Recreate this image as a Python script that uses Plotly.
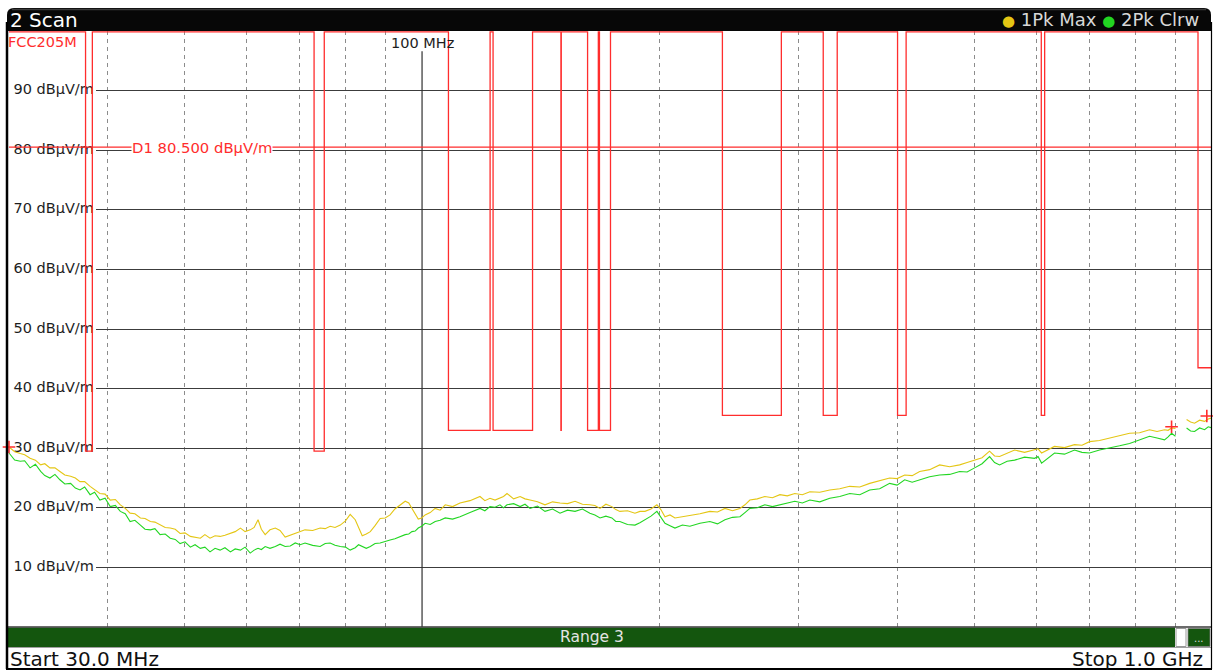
import math
import plotly.graph_objects as go

# ---------------- data ----------------
freq_mhz = [30.0, 30.5, 31.0, 31.4, 31.9, 32.4, 32.9, 33.3, 33.8, 34.3,
            34.8, 35.3, 35.9, 36.4, 36.9, 37.4, 38.0, 38.5, 39.1, 39.7,
            40.3, 40.9, 41.5, 42.1, 42.7, 43.3, 44.0, 44.6, 45.3, 45.9,
            46.6, 47.3, 48.0, 48.7, 49.4, 50.1, 50.9, 51.6, 52.4, 53.1,
            53.9, 54.7, 55.5, 56.3, 57.2, 58.0, 58.9, 59.7, 60.6, 61.3,
            62.0, 62.6, 63.3, 64.2, 65.2, 66.1, 67.1, 68.1, 69.1, 70.1,
            71.1, 72.7, 74.3, 75.4, 76.5, 77.6, 78.8, 80.0, 81.1, 82.3,
            83.1, 84.0, 85.0, 86.0, 87.2, 88.5, 89.8, 91.1, 92.4, 93.8,
            95.2, 96.2, 97.1, 98.0, 98.9, 99.9, 100.9, 102.4, 103.9, 105.4,
            107.0, 109.3, 111.7, 115.0, 118.4, 120.1, 121.9, 123.7, 125.5, 126.8,
            128.1, 130.6, 133.1, 135.0, 137.0, 140.0, 143.1, 146.3, 149.5, 152.8,
            156.2, 159.6, 163.1, 165.5, 168.0, 170.9, 173.9, 175.9, 178.0, 182.0,
            186.0, 188.7, 191.5, 194.9, 198.3, 200.6, 203.0, 206.0, 209.0, 213.6,
            218.3, 224.8, 231.4, 236.6, 241.8, 247.2, 252.6, 256.3, 260.0, 265.7,
            271.6, 277.7, 283.8, 290.0, 296.4, 303.0, 309.7, 318.8, 328.2, 337.9,
            347.9, 358.2, 368.7, 379.6, 390.8, 399.4, 408.3, 417.3, 426.5, 439.1,
            452.1, 465.5, 479.2, 489.8, 500.6, 511.6, 522.9, 530.6, 538.4, 550.4,
            562.5, 579.1, 596.2, 602.3, 608.5, 620.1, 631.9, 650.6, 669.8, 684.6,
            699.8, 720.5, 741.8, 763.8, 786.4, 809.7, 833.6, 852.0, 870.8, 880.0,
            888.8, 899.0, 910.0, 928.6, 939.5, 950.5, 964.5, 978.6, 989.0, 1000.0]

pk_max = [30.2, 29.4, 29.1, 28.9, 28.3, 28.0, 27.2, 27.4, 26.7, 26.7,
          26.1, 25.5, 25.3, 25.0, 24.4, 24.4, 23.6, 23.1, 22.4, 22.3,
          21.3, 21.4, 20.5, 19.9, 19.1, 19.0, 18.3, 18.2, 17.7, 17.6,
          17.1, 16.7, 16.6, 16.4, 15.7, 15.8, 15.2, 15.1, 14.9, 15.5,
          14.9, 15.3, 15.2, 15.4, 15.7, 16.0, 16.6, 16.0, 16.3, 16.7,
          18.0, 16.4, 15.5, 16.3, 16.6, 16.2, 15.1, 15.4, 15.7, 16.0,
          16.3, 16.2, 16.6, 16.5, 16.9, 16.7, 17.1, 17.8, 18.9, 18.0,
          16.6, 15.3, 15.6, 16.0, 17.0, 18.2, 18.3, 18.8, 19.8, 20.5,
          21.1, 20.8, 19.9, 19.0, 18.1, 18.3, 18.8, 19.2, 19.9, 19.6,
          20.5, 20.2, 20.8, 21.2, 21.9, 21.2, 21.6, 21.3, 21.6, 21.9,
          22.4, 21.5, 21.9, 21.5, 21.3, 21.0, 20.5, 21.0, 20.8, 20.7,
          21.1, 20.6, 20.5, 20.4, 19.9, 20.6, 20.2, 19.7, 19.4, 19.5,
          19.1, 19.4, 19.4, 19.8, 20.5, 19.7, 18.5, 18.8, 18.3, 18.5,
          18.8, 19.0, 19.4, 19.3, 19.9, 19.5, 19.9, 20.5, 21.3, 21.5,
          21.9, 21.7, 22.2, 22.0, 22.4, 22.2, 22.7, 22.6, 23.0, 23.2,
          23.6, 23.5, 24.1, 24.5, 25.0, 24.9, 25.5, 25.4, 26.1, 26.4,
          27.2, 26.9, 27.2, 27.6, 28.0, 28.4, 29.5, 28.7, 28.6, 29.1,
          29.7, 29.3, 29.7, 29.9, 29.2, 29.8, 30.3, 30.1, 30.6, 30.5,
          31.1, 31.3, 31.7, 32.0, 32.5, 32.6, 33.1, 32.8, 33.1, 33.0,
          33.4, 33.3, None, 34.8, 34.4, 34.2, 34.7, 34.5, 34.9, 35.1]

pk_clrw = [29.2, 28.0, 27.8, 27.9, 26.7, 27.3, 26.1, 25.4, 25.0, 25.6,
           24.7, 24.0, 24.1, 23.3, 23.0, 23.5, 22.2, 22.6, 21.3, 21.6,
           20.2, 20.4, 19.4, 19.0, 17.7, 17.9, 17.1, 16.4, 16.3, 16.5,
           15.5, 15.6, 14.9, 14.7, 14.0, 14.3, 13.4, 13.8, 13.2, 13.4,
           12.6, 13.2, 12.9, 13.3, 12.6, 13.1, 12.9, 13.4, 12.4, 12.9,
           13.2, 13.0, 13.5, 13.2, 13.5, 13.9, 13.5, 13.6, 14.1, 13.8,
           14.1, 13.7, 13.5, 14.0, 14.1, 13.7, 13.5, 13.4, 12.9, 13.3,
           13.8, 13.5, 13.2, 13.5, 14.0, 14.1, 14.4, 14.6, 14.8, 15.2,
           15.5, 15.6, 16.0, 16.1, 16.6, 16.9, 17.4, 17.2, 17.7, 17.9,
           18.3, 18.1, 18.5, 19.2, 19.9, 19.5, 20.2, 20.1, 20.5, 20.0,
           20.5, 20.7, 20.2, 20.6, 19.9, 20.3, 19.4, 19.8, 19.1, 19.6,
           19.4, 19.8, 19.1, 18.8, 18.3, 18.6, 18.3, 17.7, 17.7, 17.2,
           17.1, 17.5, 18.0, 18.6, 19.4, 18.3, 17.4, 17.0, 16.6, 17.1,
           16.9, 17.4, 17.7, 17.3, 18.0, 18.4, 18.5, 19.2, 19.9, 20.0,
           20.5, 20.2, 20.5, 20.9, 21.1, 20.8, 21.3, 21.0, 21.6, 21.9,
           22.4, 22.2, 23.0, 23.2, 24.1, 23.8, 24.7, 24.3, 24.7, 25.2,
           25.5, 25.6, 26.1, 26.0, 26.7, 27.4, 28.6, 27.6, 27.2, 27.8,
           28.0, 28.5, 28.3, 28.6, 27.5, 28.4, 29.2, 29.0, 29.7, 29.3,
           29.2, 29.7, 30.0, 30.4, 30.8, 31.4, 32.0, 31.7, 31.4, 31.9,
           32.5, 32.0, None, 33.4, 32.9, 32.8, 33.4, 33.1, 33.6, 33.4]

# FCC 15.205 restricted-band limit line (dBuV/m)
mask_freq = [30, 37.5, 37.5, 38.25, 38.25, 73, 73, 75.2, 75.2,
             108, 108, 121.94, 121.94, 123, 123, 138, 138,
             149.9, 149.9, 150.05, 150.05, 162.0125, 162.0125, 167.17, 167.17,
             167.72, 167.72, 173.2, 173.2, 240, 240, 285, 285,
             322, 322, 335.4, 335.4, 399.9, 399.9, 410, 410,
             608, 608, 614, 614, 960, 960, 1000]
mask_level = [99.85, 99.85, 29.5, 29.5, 99.85, 99.85, 29.5, 29.5, 99.85,
              99.85, 33.0, 33.0, 99.85, 99.85, 33.0, 33.0, 99.85,
              99.85, 33.0, 33.0, 99.85, 99.85, 33.0, 33.0, 99.85,
              99.85, 33.0, 33.0, 99.85, 99.85, 35.5, 35.5, 99.85,
              99.85, 35.5, 35.5, 99.85, 99.85, 35.5, 35.5, 99.85,
              99.85, 35.5, 35.5, 99.85, 99.85, 43.5, 43.5]

d1_level = 80.5
peak_freq = [30.0, 888.8, 985.0]
peak_level = [30.2, 33.6, 35.4]

ylabel_vals = [10, 20, 30, 40, 50, 60, 70, 80, 90]
ylabel_text = [f"{v} dBµV/m" for v in ylabel_vals]
xgrid_vals = [40, 50, 60, 70, 80, 90, 200, 300, 400, 500, 600, 700, 800, 900]
marker_freq = 100
f_start, f_stop = 30.0, 1000.0

# ---------------- layout helpers ----------------
W, H = 1213, 671
L, R, T, B = 9, 1, 31, 44
PW, PH = W - L - R, H - T - B
DEC = math.log10(f_stop / f_start)


def X(px):
    return (px - L) / PW


def Y(py):
    return (H - B - py) / PH


def F(px):
    """frequency at a horizontal pixel position (for label backings only)"""
    return f_start * 10 ** ((px - L) / PW * DEC)


FONT = "DejaVu Sans"
YELLOW = "rgb(228,198,20)"
GREEN = "rgb(34,214,34)"
RED = "rgb(255,45,45)"
DKGREEN = "rgb(20,86,14)"

fig = go.Figure()

# white backings for the in-plot level labels (cover the grid, beneath traces)
bx, by = [], []
for v in ylabel_vals:
    bx += [F(9), F(96), F(96), F(9), F(9), None]
    by += [v - 1.3, v - 1.3, v + 1.3, v + 1.3, v - 1.3, None]
fig.add_trace(go.Scatter(x=bx, y=by, mode="lines", fill="toself", fillcolor="white",
                         line=dict(width=0, color="white"), hoverinfo="skip"))

# y tick labels (beneath the traces)
fig.add_trace(go.Scatter(x=[F(13.5)] * len(ylabel_vals), y=ylabel_vals, text=ylabel_text,
                         mode="text", textposition="middle right",
                         textfont=dict(family=FONT, size=14.5, color="#1e1e1e"),
                         hoverinfo="skip"))

# 100 MHz marker line
fig.add_trace(go.Scatter(x=[marker_freq, marker_freq], y=[0, 96.6], mode="lines",
                         line=dict(color="#303030", width=1.2), hoverinfo="skip"))

# limit line and display line
fig.add_trace(go.Scatter(x=mask_freq, y=mask_level, mode="lines",
                         line=dict(color=RED, width=1.3), name="FCC205M"))
fig.add_trace(go.Scatter(x=[f_start, f_stop], y=[d1_level, d1_level], mode="lines",
                         line=dict(color=RED, width=1.3), name="D1"))

# traces
fig.add_trace(go.Scatter(x=freq_mhz, y=pk_max, mode="lines",
                         line=dict(color=YELLOW, width=1.1), name="1Pk Max"))
fig.add_trace(go.Scatter(x=freq_mhz, y=pk_clrw, mode="lines",
                         line=dict(color=GREEN, width=1.1), name="2Pk Clrw"))

fig.add_trace(go.Scatter(x=peak_freq, y=peak_level, mode="markers",
                         marker=dict(symbol="cross-thin", size=9,
                                     line=dict(color=RED, width=1.6)),
                         cliponaxis=False, hoverinfo="skip"))

shapes = []
# header bar with rounded top corners
hx0, hx1, hy0, hy1, rr = 7, 1211, 8, 31, 7
path = (f"M {X(hx0)},{Y(hy1)} L {X(hx0)},{Y(hy0 + rr)} "
        f"Q {X(hx0)},{Y(hy0)} {X(hx0 + rr)},{Y(hy0)} "
        f"L {X(hx1 - rr)},{Y(hy0)} Q {X(hx1)},{Y(hy0)} {X(hx1)},{Y(hy0 + rr)} "
        f"L {X(hx1)},{Y(hy1)} Z")
shapes.append(dict(type="path", xref="paper", yref="paper", path=path,
                   fillcolor="#070707", line=dict(width=0)))
shapes.append(dict(type="line", xref="paper", yref="paper", x0=X(12), x1=X(1206),
                   y0=Y(9.5), y1=Y(9.5), line=dict(color="#3a3a3a", width=1.5)))

# bottom range bar
shapes += [
    dict(type="rect", xref="paper", yref="paper", x0=X(8), x1=X(1175),
         y0=Y(647), y1=Y(627.5), fillcolor=DKGREEN, line=dict(width=0)),
    dict(type="line", xref="paper", yref="paper", x0=X(7), x1=X(1211),
         y0=Y(627), y1=Y(627), line=dict(color="#3a3a3a", width=1.5)),
    dict(type="line", xref="paper", yref="paper", x0=X(7), x1=X(1211),
         y0=Y(647.5), y1=Y(647.5), line=dict(color="#a0a0a0", width=1)),
    dict(type="rect", xref="paper", yref="paper", x0=X(1176), x1=X(1186),
         y0=Y(646.5), y1=Y(628.5), fillcolor="white", line=dict(color="#9a9a9a", width=1)),
    dict(type="rect", xref="paper", yref="paper", x0=X(1188), x1=X(1210),
         y0=Y(646.5), y1=Y(628.5), fillcolor=DKGREEN, line=dict(color="#7a7a7a", width=0.8)),
    # frame
    dict(type="line", xref="paper", yref="paper", x0=X(7), x1=X(7),
         y0=Y(669), y1=Y(22), line=dict(color="black", width=2.5)),
    dict(type="line", xref="paper", yref="paper", x0=X(6), x1=X(1212),
         y0=Y(669), y1=Y(669), line=dict(color="black", width=2)),
    dict(type="line", xref="paper", yref="paper", x0=X(1211.5), x1=X(1211.5),
         y0=Y(669), y1=Y(22), line=dict(color="black", width=1.2)),
]

annotations = [
    dict(text="2 Scan", x=X(8), y=Y(19.5), xref="paper", yref="paper",
         xanchor="left", yanchor="middle", showarrow=False,
         font=dict(family=FONT, size=20, color="white")),
    dict(text=f'<span style="color:{YELLOW};font-size:15px">●</span> 1Pk Max '
              f'<span style="color:{GREEN};font-size:15px">●</span> 2Pk Clrw',
         x=X(1201), y=Y(19.5), xref="paper", yref="paper",
         xanchor="right", yanchor="middle", showarrow=False,
         font=dict(family=FONT, size=18, color="#d8d8d8")),
    dict(text="FCC205M", x=X(6), y=Y(42.5), xref="paper", yref="paper",
         xanchor="left", yanchor="middle", showarrow=False,
         font=dict(family=FONT, size=14.5, color=RED)),
    dict(text=f"{marker_freq} MHz", x=X(389), y=Y(43.5), xref="paper", yref="paper",
         xanchor="left", yanchor="middle", showarrow=False,
         font=dict(family=FONT, size=14.5, color="#1e1e1e")),
    dict(text=f"D1 {d1_level:.3f} dBµV/m", x=X(131), y=d1_level, xref="paper", yref="y",
         xanchor="left", yanchor="middle", showarrow=False, bgcolor="white",
         borderpad=0, font=dict(family=FONT, size=14.8, color=RED)),
    dict(text="Range 3", x=X(592), y=Y(637), xref="paper", yref="paper",
         xanchor="center", yanchor="middle", showarrow=False,
         font=dict(family=FONT, size=15.5, color="#e4e4e4")),
    dict(text="...", x=X(1199), y=Y(638), xref="paper", yref="paper",
         xanchor="center", yanchor="middle", showarrow=False,
         font=dict(family=FONT, size=10, color="#dddddd")),
    dict(text="Start 30.0 MHz", x=X(8), y=Y(658.5), xref="paper", yref="paper",
         xanchor="left", yanchor="middle", showarrow=False,
         font=dict(family=FONT, size=20, color="#111111")),
    dict(text="Stop 1.0 GHz", x=X(1205), y=Y(658.5), xref="paper", yref="paper",
         xanchor="right", yanchor="middle", showarrow=False,
         font=dict(family=FONT, size=20, color="#111111")),
]

fig.update_layout(
    width=W, height=H, margin=dict(l=L, r=R, t=T, b=B, autoexpand=False),
    paper_bgcolor="white", plot_bgcolor="white", showlegend=False,
    shapes=shapes, annotations=annotations,
    xaxis=dict(type="log", range=[math.log10(f_start), math.log10(f_stop)],
               tickvals=xgrid_vals, showticklabels=False, ticks="", showgrid=True,
               gridcolor="#8c8c8c", griddash="4px,4px", gridwidth=1, zeroline=False,
               showline=False, fixedrange=True),
    yaxis=dict(range=[0, 100], tickvals=ylabel_vals, showticklabels=False, ticks="",
               showgrid=True, gridcolor="#3c3c3c", gridwidth=1.4, zeroline=False,
               showline=False, fixedrange=True),
)

fig.write_html("out.html", config={"displayModeBar": False},
               post_script="document.body.style.margin='0px';"
                           "document.body.style.overflow='hidden';")
